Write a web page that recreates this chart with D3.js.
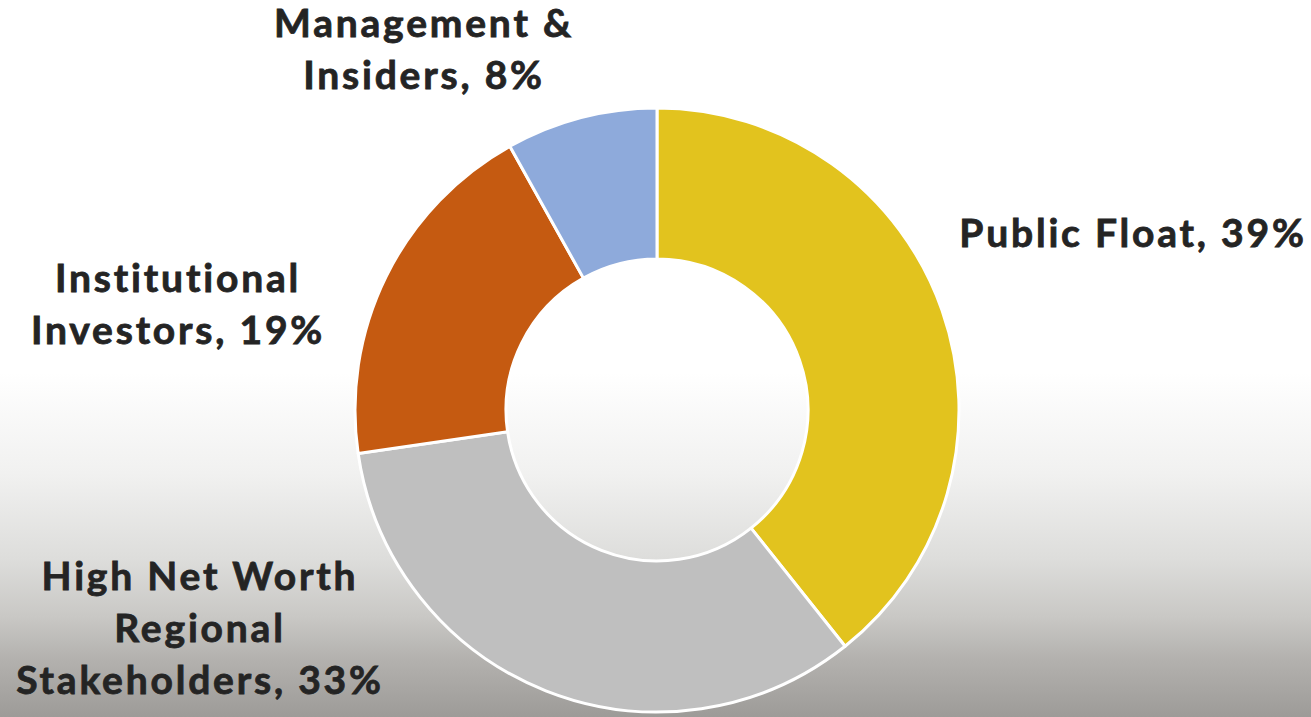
<!DOCTYPE html>
<html>
<head>
<meta charset="utf-8">
<script src="https://cdn.jsdelivr.net/npm/d3@7"></script>
<style>
  html, body { margin: 0; padding: 0; background: #fff; }
  svg { display: block; }
</style>
</head>
<body>
<div id="chart"></div>
<script>
// data
const categories = ["Public Float", "High Net Worth Regional Stakeholders", "Institutional Investors", "Management & Insiders"];
const shares = [39.3, 33.4, 19.2, 8.1];
const labelLines = [
  ["Public Float, 39%"],
  ["High Net Worth", "Regional", "Stakeholders, 33%"],
  ["Institutional", "Investors, 19%"],
  ["Management &", "Insiders, 8%"]
];
const colors = ["#E2C31E", "#BFBFBF", "#C55A11", "#8EAADB"];

const width = 1311, height = 717;
const cx = 657, cy = 410;
const outerR = 302, innerR = 151;

// label anchor (center x, first baseline y) - placed by hand like the original
const labelPos = [
  {x: 1133, y: 247},
  {x: 200, y: 590},
  {x: 178, y: 292},
  {x: 424, y: 37}
];
const lineH = 52;

var svg = d3.select("#chart")
  .append("svg")
  .attr("width", width)
  .attr("height", height);

// background fade
var defs = svg.append("defs");
var grad = defs.append("linearGradient")
  .attr("id", "bg")
  .attr("x1", 0).attr("y1", 0).attr("x2", 0).attr("y2", 1);
[[0, "#ffffff"], [0.52, "#ffffff"], [0.66, "#f1f1f0"], [0.78, "#dddddb"], [0.86, "#c9c8c5"], [0.92, "#b3b1ae"], [1, "#9d9b98"]]
  .forEach(s => grad.append("stop").attr("offset", s[0]).attr("stop-color", s[1]));

svg.append("rect")
  .attr("width", width)
  .attr("height", height)
  .attr("fill", "url(#bg)");

var pie = d3.pie().sort(null).value(d => d);
var arc = d3.arc().innerRadius(innerR).outerRadius(outerR);

var g = svg.append("g")
  .attr("transform", "translate(" + cx + "," + cy + ")");

g.selectAll("path")
  .data(pie(shares))
  .enter()
  .append("path")
  .attr("d", arc)
  .attr("fill", (d, i) => colors[i])
  .attr("stroke", "#ffffff")
  .attr("stroke-width", 3)
  .attr("stroke-linejoin", "round");

// labels
var labels = svg.append("g")
  .attr("font-family", "Lato, 'Open Sans', sans-serif")
  .attr("font-weight", 700)
  .attr("font-size", 39)
  .attr("letter-spacing", 2.8)
  .attr("fill", "#242424")
  .attr("stroke", "#242424")
  .attr("stroke-width", 0.8)
  .attr("text-anchor", "middle");

labelLines.forEach((lines, i) => {
  var t = labels.append("text")
    .attr("x", labelPos[i].x)
    .attr("y", labelPos[i].y);
  lines.forEach((ln, j) => {
    t.append("tspan")
      .attr("x", labelPos[i].x)
      .attr("y", labelPos[i].y + j * lineH)
      .text(ln);
  });
});
</script>
</body>
</html>
